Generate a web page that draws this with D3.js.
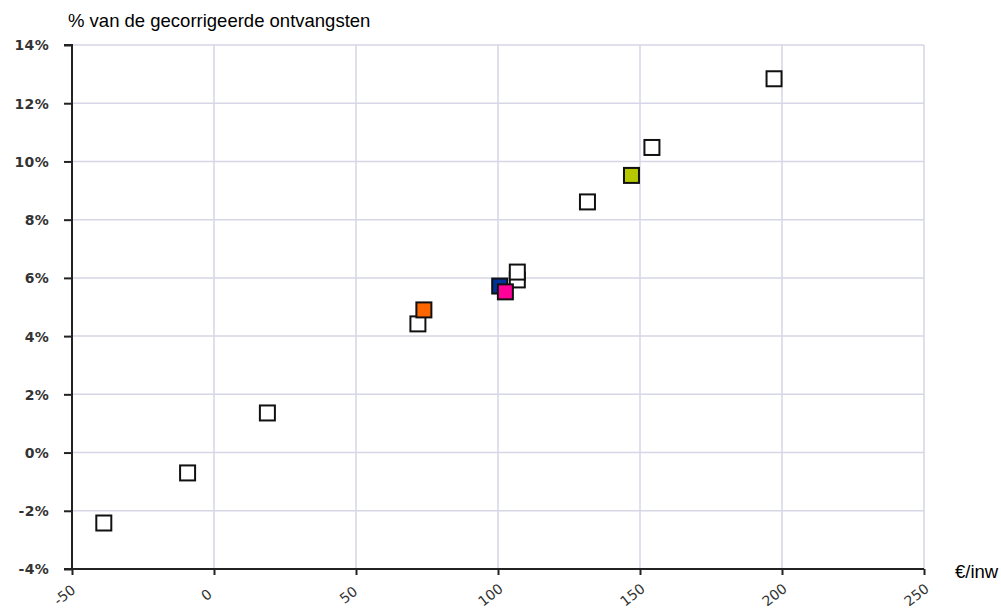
<!DOCTYPE html>
<html lang="en">
<head>
<meta charset="utf-8">
<title>Scatter</title>
<script src="https://d3js.org/d3.v7.min.js"></script>
<style>
  body { margin: 0; background: #fff; }
  .tick text { font-family: "DejaVu Sans", Verdana, sans-serif; font-size: 14px; fill: #333; }
  .title { font-family: "Liberation Sans", Arial, sans-serif; font-size: 18.5px; fill: #000; }
</style>
</head>
<body>
<div id="chart"></div>
<script>

// data
var xTicks = [-50, 0, 50, 100, 150, 200, 250];
var yTicks = [-4, -2, 0, 2, 4, 6, 8, 10, 12, 14];

// plain (white) points, drawn first
var plainX = [-38.8, -9.3, 18.8, 71.8, 106.8, 106.8, 131.5, 154.2, 197.2];
var plainY = [-2.42, -0.70, 1.36, 4.42, 5.93, 6.20, 8.61, 10.48, 12.84];

// highlighted points, drawn on top
var hiX = [100.6, 102.6, 73.9, 147.0];
var hiY = [5.72, 5.52, 4.90, 9.52];
var hiColor = ["#003399", "#ff0099", "#ff6600", "#b5c800"];

var w = 1001, h = 609;
var margin = {left: 72, top: 45, right: 77, bottom: 40};

var svg = d3.select("#chart").append("svg")
    .attr("width", w)
    .attr("height", h);

var x = d3.scaleLinear().domain([-50, 250]).range([margin.left, w - margin.right]);
var y = d3.scaleLinear().domain([-4, 14]).range([h - margin.bottom, margin.top]);

// grid
svg.append("g").selectAll("line.vg")
    .data(xTicks.slice(1))
    .enter().append("line")
    .attr("x1", function(d) { return x(d); })
    .attr("x2", function(d) { return x(d); })
    .attr("y1", y(14))
    .attr("y2", y(-4))
    .style("stroke", "#d6d6e6")
    .style("stroke-width", 1.5);

svg.append("g").selectAll("line.hg")
    .data(yTicks.slice(1))
    .enter().append("line")
    .attr("x1", x(-50))
    .attr("x2", x(250))
    .attr("y1", function(d) { return y(d); })
    .attr("y2", function(d) { return y(d); })
    .style("stroke", "#d6d6e6")
    .style("stroke-width", 1.5);

// axes
var yAxis = d3.axisLeft(y).tickValues(yTicks).tickSize(8).tickPadding(15)
    .tickFormat(function(d) { return d + "%"; });
var gy = svg.append("g").attr("transform", "translate(" + x(-50) + ",0)").call(yAxis);
gy.select(".domain").style("stroke", "#222").style("stroke-width", 2).attr("d", "M-8," + y(14) + "H0V" + y(-4));
gy.selectAll(".tick line").style("stroke", "#222").style("stroke-width", 2);
gy.selectAll(".tick text").attr("dy", "0.35em").style("font-weight", "bold").style("letter-spacing", "0.3px");

var xAxis = d3.axisBottom(x).tickValues(xTicks).tickSize(6).tickPadding(8)
    .tickFormat(function(d) { return String(d); });
var gx = svg.append("g").attr("transform", "translate(0," + y(-4) + ")").call(xAxis);
gx.select(".domain").style("stroke", "#222").style("stroke-width", 2).attr("d", "M" + (x(-50) - 8) + ",0H" + x(250));
gx.selectAll(".tick line").style("stroke", "#222").style("stroke-width", 2);
gx.selectAll(".tick text")
    .style("text-anchor", "middle")
    .attr("y", 0)
    .attr("dy", "0.35em")
    .attr("transform", "translate(-8,26) rotate(-38)");

// titles
svg.append("text").attr("class", "title")
    .attr("x", 68).attr("y", 27)
    .text("% van de gecorrigeerde ontvangsten");
svg.append("text").attr("class", "title")
    .attr("x", 955).attr("y", 578)
    .text("€/inw");

// markers
var size = 15;
svg.append("g").selectAll("rect")
    .data(plainX)
    .enter().append("rect")
    .attr("x", function(d) { return x(d) - size / 2; })
    .attr("y", function(d, i) { return y(plainY[i]) - size / 2; })
    .attr("width", size)
    .attr("height", size)
    .style("fill", "#fff")
    .style("stroke", "#111")
    .style("stroke-width", 2);

svg.append("g").selectAll("rect")
    .data(hiX)
    .enter().append("rect")
    .attr("x", function(d) { return x(d) - size / 2; })
    .attr("y", function(d, i) { return y(hiY[i]) - size / 2; })
    .attr("width", size)
    .attr("height", size)
    .style("fill", function(d, i) { return hiColor[i]; })
    .style("stroke", "#111")
    .style("stroke-width", 2);

</script>
</body>
</html>
